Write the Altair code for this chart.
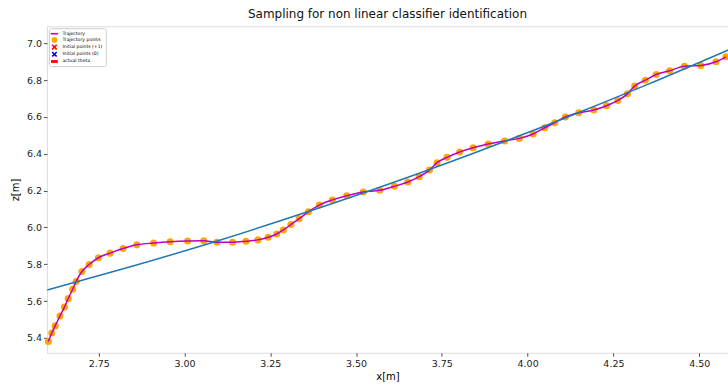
import altair as alt
import pandas as pd

# Trajectory points
traj_x = [2.603, 2.613, 2.623, 2.637, 2.650, 2.661, 2.674, 2.684, 2.701, 2.722,
          2.749, 2.783, 2.821, 2.861, 2.910, 2.958, 3.009, 3.056, 3.094, 3.140,
          3.179, 3.214, 3.244, 3.269, 3.288, 3.310, 3.334, 3.361, 3.393, 3.431,
          3.473, 3.521, 3.569, 3.612, 3.651, 3.684, 3.714, 3.736, 3.765, 3.802,
          3.841, 3.885, 3.933, 3.976, 4.016, 4.050, 4.079, 4.110, 4.149, 4.193,
          4.230, 4.263, 4.291, 4.312, 4.343, 4.375, 4.414, 4.457, 4.505, 4.549,
          4.578]
traj_z = [5.380, 5.426, 5.465, 5.519, 5.567, 5.613, 5.664, 5.706, 5.760, 5.798,
          5.835, 5.860, 5.885, 5.905, 5.915, 5.922, 5.926, 5.927, 5.919, 5.919,
          5.925, 5.932, 5.946, 5.964, 5.986, 6.015, 6.047, 6.085, 6.121, 6.149,
          6.172, 6.192, 6.201, 6.223, 6.246, 6.275, 6.311, 6.351, 6.380, 6.409,
          6.432, 6.452, 6.469, 6.483, 6.507, 6.541, 6.568, 6.599, 6.622, 6.637,
          6.660, 6.689, 6.725, 6.767, 6.799, 6.830, 6.850, 6.875, 6.879, 6.899,
          6.926]

# Classifier boundary (blue curve)
theta_x = [2.60, 2.85, 3.10, 3.35, 3.60, 3.85, 4.10, 4.35, 4.60]
theta_z = [5.660, 5.790, 5.929, 6.079, 6.238, 6.408, 6.587, 6.776, 6.975]

legend_labels = ["Trajectory", "Trajectory points", "Initial points (+1)",
                 "Initial points (0)", "actual theta"]
legend_colors = ["#BF00BF", "#FFA500", "#FF0000", "#0000FF", "#FF0000"]
legend_shapes = [
    "M-1.3,-0.28H1.3V0.28H-1.3Z",
    "circle",
    "M-1,-0.6L-0.6,-1L0,-0.4L0.6,-1L1,-0.6L0.4,0L1,0.6L0.6,1L0,0.4L-0.6,1L-1,0.6L-0.4,0Z",
    "M-1,-0.6L-0.6,-1L0,-0.4L0.6,-1L1,-0.6L0.4,0L1,0.6L0.6,1L0,0.4L-0.6,1L-1,0.6L-0.4,0Z",
    "M-1.2,-0.5H1.2V0.5H-1.2Z",
]

x_ticks = [2.75, 3.00, 3.25, 3.50, 3.75, 4.00, 4.25, 4.50]
y_ticks = [5.4, 5.6, 5.8, 6.0, 6.2, 6.4, 6.6, 6.8, 7.0]

traj = pd.DataFrame({"x": traj_x, "z": traj_z})
theta = pd.DataFrame({"x": theta_x, "z": theta_z})
leg = pd.DataFrame({"series": legend_labels})

xs = alt.Scale(domain=[2.599, 4.584], nice=False, zero=False)
ys = alt.Scale(domain=[5.319, 7.092], nice=False, zero=False)

xax = alt.Axis(values=x_ticks, format=".2f", title="x[m]", grid=False, domain=False,
               tickColor="#222", tickSize=3.5, tickWidth=0.8, labelFontSize=9.5,
               labelColor="#222", labelPadding=2, titleFontSize=10, titleFontWeight="normal",
               titlePadding=4, labelFont="DejaVu Sans", titleFont="DejaVu Sans")
yax = alt.Axis(values=y_ticks, format=".1f", title="z[m]", grid=False, domain=False,
               tickColor="#222", tickSize=3.5, tickWidth=0.8, labelFontSize=9.5,
               labelColor="#222", labelPadding=2, titleFontSize=10, titleFontWeight="normal",
               titlePadding=6, labelFont="DejaVu Sans", titleFont="DejaVu Sans")

points = alt.Chart(traj).mark_circle(size=50, color="#FFA500", opacity=1).encode(
    x=alt.X("x:Q", scale=xs, axis=xax),
    y=alt.Y("z:Q", scale=ys, axis=yax),
)

traj_line = alt.Chart(traj).mark_line(color="#BF00BF", strokeWidth=1.5,
                                      interpolate="monotone").encode(
    x=alt.X("x:Q", scale=xs),
    y=alt.Y("z:Q", scale=ys),
)

theta_line = alt.Chart(theta).mark_line(color="#1f77b4", strokeWidth=1.5,
                                        interpolate="monotone", clip=True).encode(
    x=alt.X("x:Q", scale=xs),
    y=alt.Y("z:Q", scale=ys),
)

legend_layer = alt.Chart(leg).transform_filter("false").mark_point(filled=True, opacity=1).encode(
    color=alt.Color("series:N", scale=alt.Scale(domain=legend_labels, range=legend_colors),
                    legend=alt.Legend(title=None, orient="top-left", offset=2, padding=2.5,
                                      fillColor="white", strokeColor="#ccc", cornerRadius=2,
                                      labelFontSize=4.6, labelFont="DejaVu Sans",
                                      symbolSize=32, rowPadding=1.2, labelOffset=5,
                                      symbolStrokeWidth=0, symbolOpacity=1)),
    shape=alt.Shape("series:N", scale=alt.Scale(domain=legend_labels, range=legend_shapes),
                    legend=alt.Legend(title=None, orient="top-left")),
)

chart = alt.layer(points, traj_line, theta_line, legend_layer).properties(
    width=682, height=327,
    title=alt.TitleParams("Sampling for non linear classifier identification",
                          fontSize=12, fontWeight="normal", font="DejaVu Sans",
                          offset=5, anchor="middle", color="#111"),
    autosize=alt.AutoSizeParams(type="none"),
    padding={"left": 47, "top": 26, "right": 0, "bottom": 32},
).configure_view(stroke="#222", strokeWidth=1).configure(background="white")

chart.save("out.html", embed_options={"renderer": "svg", "actions": False})
